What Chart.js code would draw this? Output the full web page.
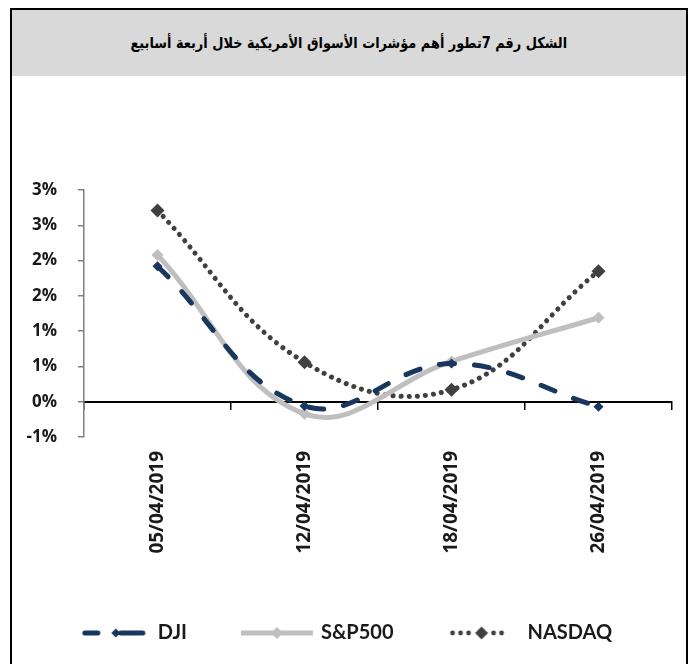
<!DOCTYPE html>
<html>
<head>
<meta charset="utf-8">
<script src="https://cdn.jsdelivr.net/npm/chart.js@4"></script>
<style>
  html, body { margin: 0; padding: 0; background: #fff; }
  body { width: 692px; height: 664px; position: relative; overflow: hidden; }
  #frame { position: absolute; left: 10px; top: 8px; width: 674px; height: 720px;
           border: 2px solid #000; box-sizing: content-box; }
  #head { position: absolute; left: 0; top: 0; width: 674px; height: 66px; background: #D9D9D9;
          display: flex; align-items: center; justify-content: center; }
  #title { font-family: "DejaVu Sans", sans-serif; font-weight: bold; font-size: 15px; color: #000;
           display: inline-block; transform: scaleX(0.86); white-space: nowrap; }
  #c { position: absolute; left: 0; top: 0; }
</style>
</head>
<body>
<div id="frame"><div id="head"><span id="title" dir="rtl">الشكل رقم 7تطور أهم مؤشرات الأسواق الأمريكية خلال أربعة أسابيع</span></div></div>
<canvas id="c" width="692" height="664"></canvas>
<script>
const categories = ["05/04/2019", "12/04/2019", "18/04/2019", "26/04/2019"];
const dji    = [1.92, -0.06, 0.54, -0.07];
const sp500  = [2.08, -0.17, 0.57, 1.19];
const nasdaq = [2.71, 0.56, 0.17, 1.85];
const yMin = -0.5, yMax = 3.0, yStep = 0.5;

const NAVY = "#17375E", LIGHT = "#BFBFBF", DARK = "#404040";

function diamond(ctx, x, y, r, color) {
  ctx.fillStyle = color;
  ctx.beginPath();
  ctx.moveTo(x, y - r); ctx.lineTo(x + r, y); ctx.lineTo(x, y + r); ctx.lineTo(x - r, y);
  ctx.closePath(); ctx.fill();
}
function legendImg(kind) {
  const c = document.createElement("canvas");
  c.width = 74; c.height = 16;
  const g = c.getContext("2d");
  const y = 8;
  g.lineCap = "round";
  if (kind === "dji") {
    g.strokeStyle = NAVY; g.lineWidth = 5;
    g.beginPath(); g.moveTo(8, y); g.lineTo(21, y); g.stroke();
    g.beginPath(); g.moveTo(44, y); g.lineTo(66, y); g.stroke();
    diamond(g, 39, y, 4.5, NAVY);
  } else if (kind === "sp") {
    g.strokeStyle = LIGHT; g.lineWidth = 5; g.lineCap = "butt";
    g.beginPath(); g.moveTo(1, y); g.lineTo(73, y); g.stroke();
    diamond(g, 37, y, 6, LIGHT);
  } else {
    g.fillStyle = DARK;
    [6, 14, 22, 47, 55].forEach(x => { g.beginPath(); g.arc(x, y, 2.4, 0, Math.PI * 2); g.fill(); });
    diamond(g, 35, y, 6.5, DARK);
  }
  return c;
}
const legendImgs = [legendImg("dji"), legendImg("sp"), legendImg("nd")];

function fmt(v) {
  const r = v < 0 ? -Math.round(-v) : Math.round(v);
  return r + "%";
}

new Chart(document.getElementById("c"), {
  type: "line",
  data: {
    labels: categories,
    datasets: [
      { label: "DJI", data: dji, borderColor: NAVY, borderWidth: 5, borderDash: [15, 20],
        borderCapStyle: "round", tension: 0.4, pointStyle: "rectRot", pointRadius: 5,
        pointBackgroundColor: NAVY, pointBorderWidth: 0, fill: false },
      { label: "S&P500", data: sp500, borderColor: LIGHT, borderWidth: 5,
        borderCapStyle: "round", tension: 0.4, pointStyle: "rectRot", pointRadius: 6,
        pointBackgroundColor: LIGHT, pointBorderWidth: 0, fill: false },
      { label: "NASDAQ", data: nasdaq, borderColor: DARK, borderWidth: 5, borderDash: [0.1, 8],
        borderCapStyle: "round", tension: 0.4, pointStyle: "rectRot", pointRadius: 7,
        pointBackgroundColor: DARK, pointBorderWidth: 0, fill: false }
    ]
  },
  options: {
    responsive: false,
    animation: false,
    devicePixelRatio: 1,
    layout: { padding: { top: 190, right: 0, bottom: 11, left: 0 } },
    plugins: {
      tooltip: { enabled: false },
      title: { display: false },
      legend: {
        position: "bottom",
        labels: {
          usePointStyle: true,
          pointStyleWidth: 68,
          padding: 56,
          color: "#1a1a1a",
          font: { family: "Lato, 'Open Sans', sans-serif", size: 20, weight: "bold" },
          generateLabels: (chart) => chart.data.datasets.map((d, i) => ({
            text: d.label, pointStyle: legendImgs[i], datasetIndex: i,
            fillStyle: "rgba(0,0,0,0)", strokeStyle: "rgba(0,0,0,0)", lineWidth: 0,
            fontColor: "#1a1a1a"
          }))
        }
      }
    },
    scales: {
      x: {
        type: "category",
        position: "bottom",
        offset: true,
        border: { display: false },
        grid: { display: false, drawTicks: false },
        ticks: { minRotation: 90, maxRotation: 90, padding: 14, color: "#1a1a1a",
                 font: { family: "'Open Sans', sans-serif", size: 19, weight: "bold" } },
        afterFit: (s) => { s.height = 130; }
      },
      x0: {
        type: "category",
        axis: "x",
        position: { y: 0 },
        offset: true,
        border: { display: true, color: "#000", width: 2 },
        grid: { display: true, offset: true, drawOnChartArea: false, drawTicks: true,
                tickLength: 7, color: "#000", lineWidth: 1.5 },
        ticks: { display: false }
      },
      y: {
        min: yMin, max: yMax,
        border: { display: true, color: "#808080", width: 1.5 },
        grid: { display: true, drawOnChartArea: false, drawTicks: true, tickLength: 6,
                color: "#808080", lineWidth: 1.5 },
        ticks: { stepSize: yStep, padding: 21, color: "#1a1a1a", callback: (v) => fmt(v),
                 font: { family: "'Open Sans', sans-serif", size: 17, weight: "bold" } },
        afterFit: (s) => { s.width = 84; }
      },
      yRight: {
        type: "linear",
        position: "right",
        min: yMin, max: yMax,
        display: true,
        border: { display: false },
        grid: { display: false, drawTicks: false },
        ticks: { display: false },
        afterFit: (s) => { s.width = 20; }
      }
    }
  }
});
</script>
</body>
</html>
